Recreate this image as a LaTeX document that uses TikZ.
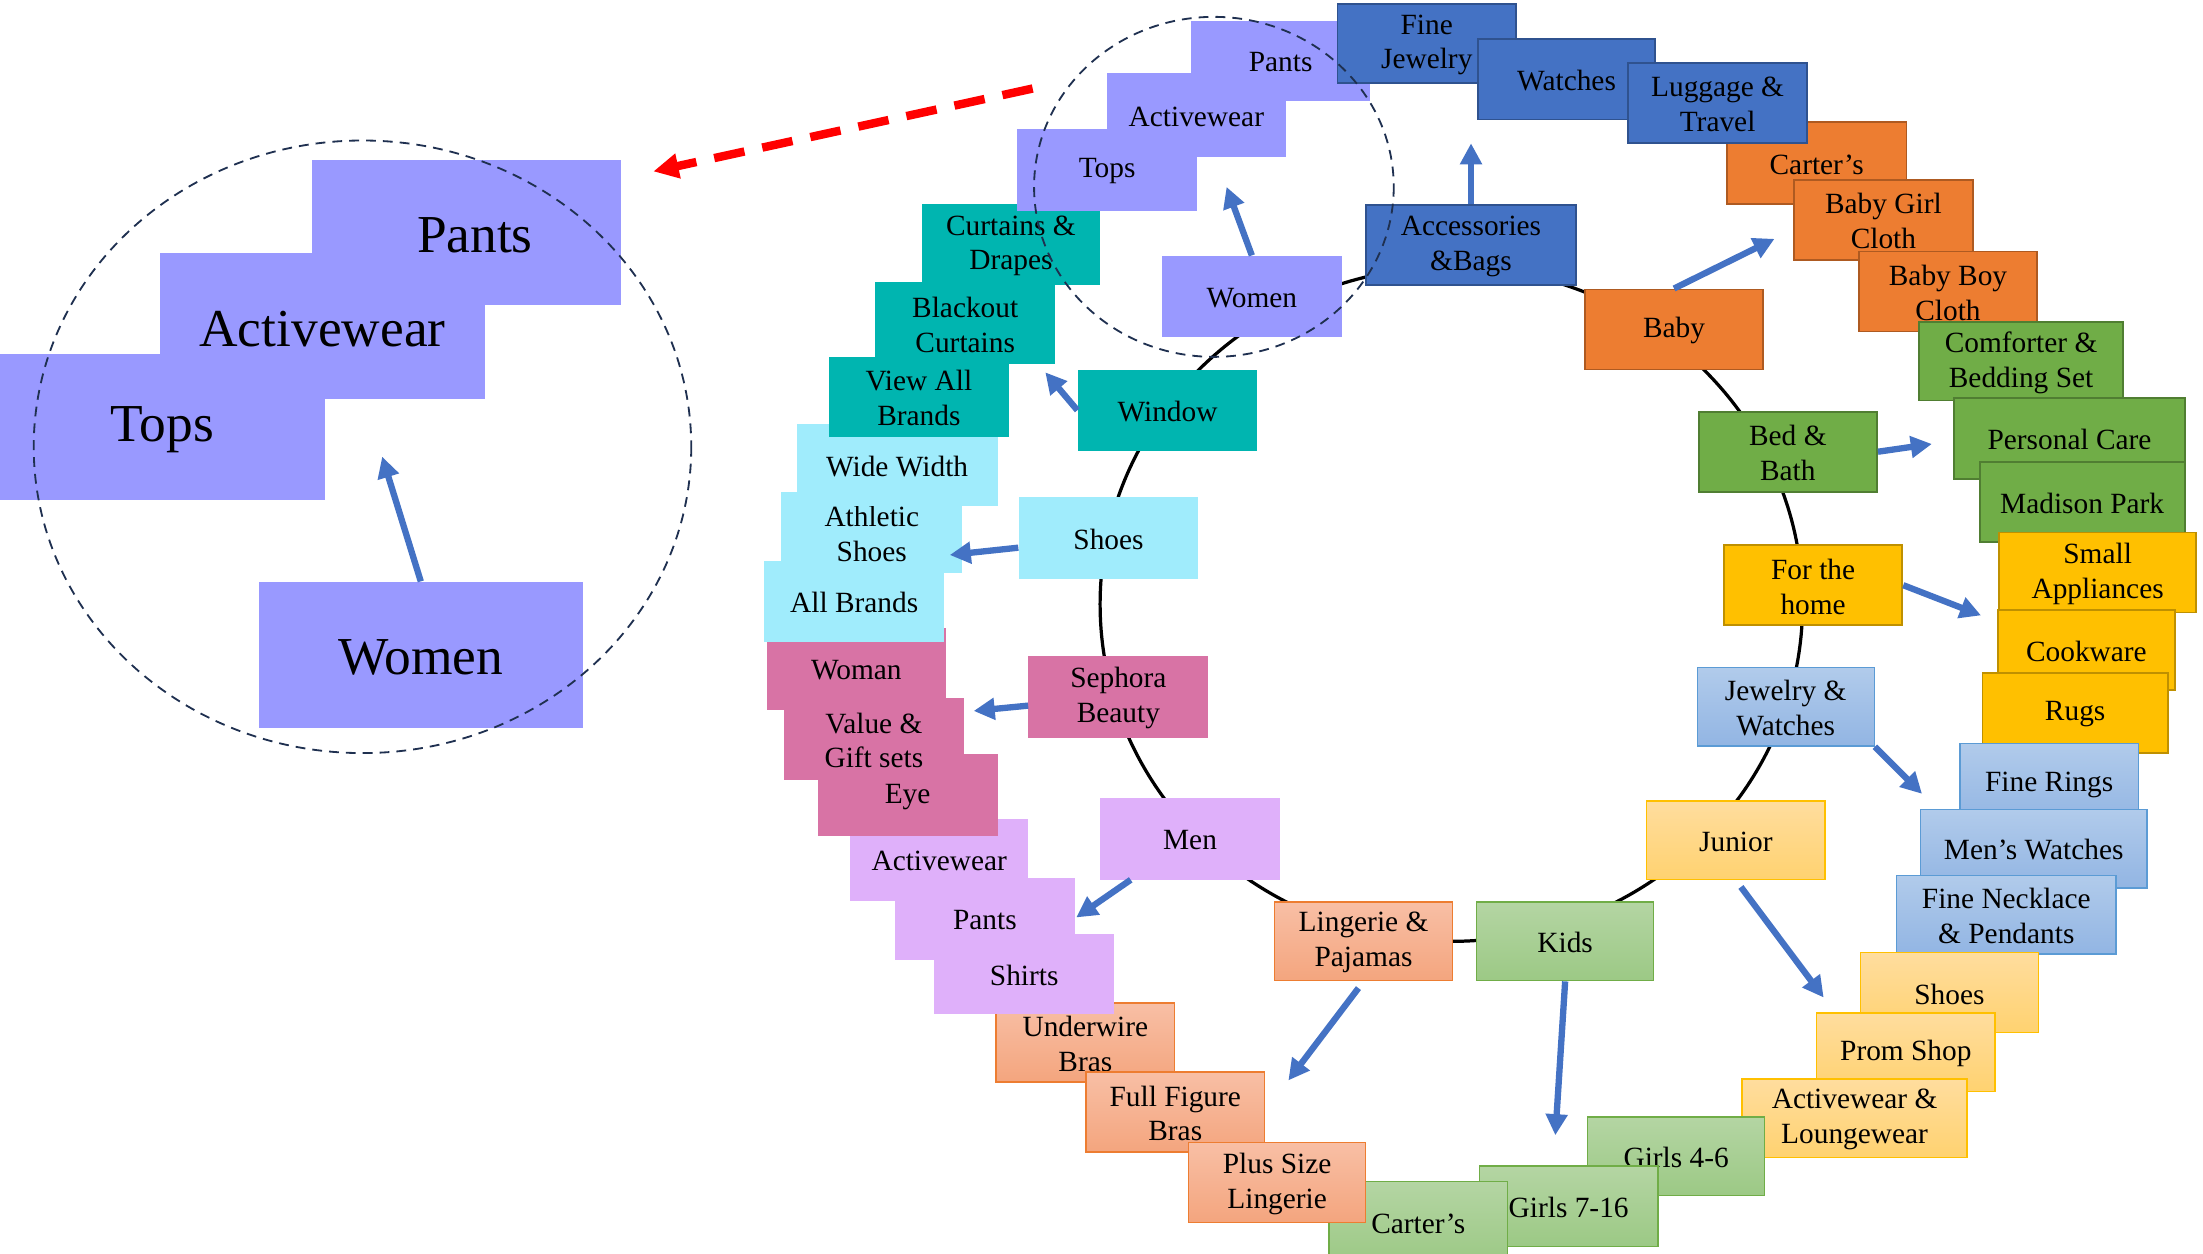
\documentclass[tikz,border=0pt]{standalone}
\usepackage{fontspec}
\setmainfont{Liberation Serif}
\usetikzlibrary{arrows.meta}
\definecolor{purpC}{HTML}{9999FF}
\definecolor{bluC}{HTML}{4472C4}\definecolor{bluD}{HTML}{2F528F}
\definecolor{orC}{HTML}{ED7D31}\definecolor{orD}{HTML}{AE5A21}
\definecolor{grC}{HTML}{70AD47}\definecolor{grD}{HTML}{507E32}
\definecolor{goC}{HTML}{FFC000}\definecolor{goD}{HTML}{BF9000}
\definecolor{lbT}{HTML}{B1CBEB}\definecolor{lbB}{HTML}{92B5E3}\definecolor{lbD}{HTML}{5B9BD5}
\definecolor{lgT}{HTML}{FFDD9E}\definecolor{lgB}{HTML}{FFD270}\definecolor{lgD}{HTML}{FFC000}
\definecolor{lgrT}{HTML}{B4D5A3}\definecolor{lgrB}{HTML}{9CC985}\definecolor{lgrD}{HTML}{70AD47}
\definecolor{saT}{HTML}{F8BFA5}\definecolor{saB}{HTML}{F4A57E}\definecolor{saD}{HTML}{ED7D31}
\definecolor{lpC}{HTML}{DFB0FA}
\definecolor{piC}{HTML}{D873A5}
\definecolor{cyC}{HTML}{A0ECFC}
\definecolor{teC}{HTML}{00B5B0}
\definecolor{navy}{HTML}{1F3050}
\definecolor{arrB}{HTML}{4472C4}
\newcommand{\bx}[7]{\node[#2, minimum width={(#5-#3)*1pt}, minimum height={(#6-#4)*1pt}, label={[txt]center:{#7}}] (#1) at ({(#3+#5)/2},{(#4+#6)/2}) {};}
\newcommand{\bbx}[7]{\node[#2, minimum width={(#5-#3)*1pt}, minimum height={(#6-#4)*1pt}, label={[bigtxt]center:{#7}}] (#1) at ({(#3+#5)/2},{(#4+#6)/2}) {};}
\begin{document}
\begin{tikzpicture}[x=1pt,y=-1pt,
  box/.style={inner sep=0pt},
  txt/.style={inner sep=0pt, align=center, yshift=-1pt, font=\fontsize{20.9}{24.8}\selectfont},
  bigtxt/.style={inner sep=0pt, align=center, yshift=-2pt, font=\fontsize{38}{45}\selectfont},
  bigbox/.style={inner sep=0pt, fill=purpC},
  purp/.style={box, fill=purpC},
  blu/.style={box, fill=bluC, draw=bluD, line width=1.3pt},
  ora/.style={box, fill=orC, draw=orD, line width=1.3pt},
  gre/.style={box, fill=grC, draw=grD, line width=1.3pt},
  gol/.style={box, fill=goC, draw=goD, line width=1.3pt},
  lblu/.style={box, top color=lbT, bottom color=lbB, draw=lbD, line width=1pt},
  lgol/.style={box, top color=lgT, bottom color=lgB, draw=lgD, line width=1pt},
  lgre/.style={box, top color=lgrT, bottom color=lgrB, draw=lgrD, line width=1pt},
  sal/.style={box, top color=saT, bottom color=saB, draw=saD, line width=1pt},
  lpur/.style={box, fill=lpC},
  pin/.style={box, fill=piC},
  cya/.style={box, fill=cyC},
  tea/.style={box, fill=teC},
  barrow/.style={draw=arrB, line width=4.5pt, -{Triangle[length=15pt,width=15pt]}},
  ring/.style={draw=black, line width=2.3pt},
  dcirc/.style={draw=navy, line width=1.3pt, dash pattern=on 7pt off 5pt}]
\useasboundingbox (0,0) rectangle (1568,892);

% ring
\path[ring] (1033,430) ellipse [x radius=250, y radius=240];

% left-side stacks
\bx{actm}{lpur}{605}{583}{732}{641}{Activewear}
\bx{eye}{pin}{582}{537}{710}{595}{Eye}
\bx{value}{pin}{558}{497}{686}{555}{Value \&\\Gift sets}
\bx{woman}{pin}{546}{447}{673}{505}{Woman}
\bx{pantsm}{lpur}{637}{625}{765}{683}{Pants}
\bx{underwire}{sal}{709}{714}{836}{770}{Underwire\\Bras}
\bx{shirts}{lpur}{665}{665}{793}{722}{Shirts}
\bx{allbrands}{cya}{544}{399}{672}{457}{All Brands}
\bx{athletic}{cya}{556}{350}{685}{408}{Athletic\\Shoes}
\bx{widew}{cya}{567}{302}{710}{360}{Wide Width}
\bx{curtains}{tea}{656}{145}{783}{203}{Curtains \&\\Drapes}
\bx{blackout}{tea}{623}{201}{751}{259}{Blackout\\Curtains}
\bx{viewall}{tea}{590}{254}{718}{311}{View All\\Brands}
\bx{pantss}{purp}{848}{15}{975}{72}{Pants}
\bx{acts}{purp}{788}{52}{915}{112}{Activewear}
\bx{topss}{purp}{724}{92}{852}{150}{Tops}

% right-side chain
\bx{finejew}{blu}{952}{3}{1079}{59}{Fine\\Jewelry}
\bx{watches}{blu}{1052}{28}{1178}{85}{Watches}
\bx{cartersb}{ora}{1229}{87}{1357}{145}{Carter’s}
\bx{luggage}{blu}{1159}{45}{1286}{102}{Luggage \&\\Travel}
\bx{babygirl}{ora}{1277}{128}{1404}{185}{Baby Girl\\Cloth}
\bx{babyboy}{ora}{1323}{179}{1450}{236}{Baby Boy\\Cloth}
\bx{comforter}{gre}{1366}{229}{1511}{285}{Comforter \&\\Bedding Set}
\bx{personal}{gre}{1391}{283}{1555}{341}{Personal Care}
\bx{madison}{gre}{1409}{329}{1555}{386}{Madison Park}
\bx{smallapp}{gol}{1423}{379}{1563}{436}{Small\\Appliances}
\bx{cookware}{gol}{1422}{434}{1548}{491}{Cookware}
\bx{rugs}{gol}{1411}{479}{1543}{536}{Rugs}
\bx{finerings}{lblu}{1395}{529}{1522}{586}{Fine Rings}
\bx{mensw}{lblu}{1367}{576}{1528}{632}{Men’s Watches}
\bx{necklace}{lblu}{1350}{623}{1506}{679}{Fine Necklace\\\& Pendants}
\bx{shoesj}{lgol}{1324}{678}{1451}{735}{Shoes}
\bx{prom}{lgol}{1293}{721}{1420}{777}{Prom Shop}
\bx{activel}{lgol}{1240}{768}{1400}{824}{Activewear \&\\Loungewear}
\bx{girlsa}{lgre}{1130}{795}{1256}{851}{Girls 4-6}
\bx{girlsb}{lgre}{1053}{830}{1180}{887}{Girls 7-16}
\bx{carterk}{lgre}{946}{841}{1073}{899}{Carter’s}
\bx{fullfig}{sal}{773}{763}{900}{820}{Full Figure\\Bras}
\bx{plussize}{sal}{846}{813}{972}{870}{Plus Size\\Lingerie}

% central nodes
\bx{women}{purp}{827}{182}{955}{240}{Women}
\bx{acc}{blu}{972}{146}{1122}{203}{Accessories\\\&Bags}
\bx{baby}{ora}{1128}{206}{1255}{263}{Baby}
\bx{bedbath}{gre}{1209}{293}{1336}{350}{Bed \&\\Bath}
\bx{forhome}{gol}{1227}{388}{1354}{445}{For the\\home}
\bx{jw}{lblu}{1208}{475}{1334}{531}{Jewelry \&\\Watches}
\bx{junior}{lgol}{1172}{570}{1299}{626}{Junior}
\bx{kids}{lgre}{1051}{642}{1177}{698}{Kids}
\bx{lingerie}{sal}{907}{642}{1034}{698}{Lingerie \&\\Pajamas}
\bx{men}{lpur}{783}{568}{911}{626}{Men}
\bx{sephora}{pin}{732}{467}{860}{525}{Sephora\\Beauty}
\bx{shoes}{cya}{725}{354}{853}{412}{Shoes}
\bx{window}{tea}{767}{263}{895}{321}{Window}

% arrow tips
\coordinate (tWomen) at (873,133);
\coordinate (tAcc) at (1047,102);
\coordinate (tBaby) at (1263,170);
\coordinate (tBed) at (1375,316);
\coordinate (tHome) at (1410,438);
\coordinate (tJW) at (1368,565);
\coordinate (tJun) at (1298,710);
\coordinate (tKids) at (1107,808);
\coordinate (tLing) at (917,769);
\coordinate (tMen) at (766,653);
\coordinate (tSeph) at (693,506);
\coordinate (tShoes) at (676,395);
\coordinate (tWin) at (744,265);

\draw[barrow] (women.north) -- (tWomen);
\draw[barrow] (acc.north) -- (tAcc);
\draw[barrow] (baby.north) -- (tBaby);
\draw[barrow] (bedbath.east) -- (tBed);
\draw[barrow] (forhome.east) -- (tHome);
\draw[barrow] (jw.south east) -- (tJW);
\draw[barrow, shorten <=6pt] (junior.south) -- (tJun);
\draw[barrow] (kids.south) -- (tKids);
\draw[barrow, shorten <=6pt] (lingerie.south) -- (tLing);
\draw[barrow] (men) -- (tMen);
\draw[barrow] (sephora) -- (tSeph);
\draw[barrow] (shoes) -- (tShoes);
\draw[barrow] (window.west) -- (tWin);

% small dashed circle
\path[dcirc] (864,133) ellipse [x radius=128, y radius=121];

% magnified view
\bbx{bpants}{bigbox}{222}{114}{442}{217}{\hspace*{12pt}Pants}
\bbx{bact}{bigbox}{114}{180}{345}{284}{Activewear}
\bbx{btops}{bigbox}{0}{252}{231}{356}{Tops}
\bbx{bwomen}{bigbox}{184}{414}{415}{518}{Women}
\coordinate (tBig) at (272,325);
\draw[barrow] (bwomen.north) -- (tBig);
\path[dcirc] (258,318) ellipse [x radius=234, y radius=218];

% red dashed arrow
\coordinate (rS) at (735,63);
\coordinate (rT) at (465,122);
\draw[red, line width=6pt, dash pattern=on 22pt off 13pt, -{Triangle[length=18pt,width=17pt]}] (rS) -- (rT);
\end{tikzpicture}
\end{document}
